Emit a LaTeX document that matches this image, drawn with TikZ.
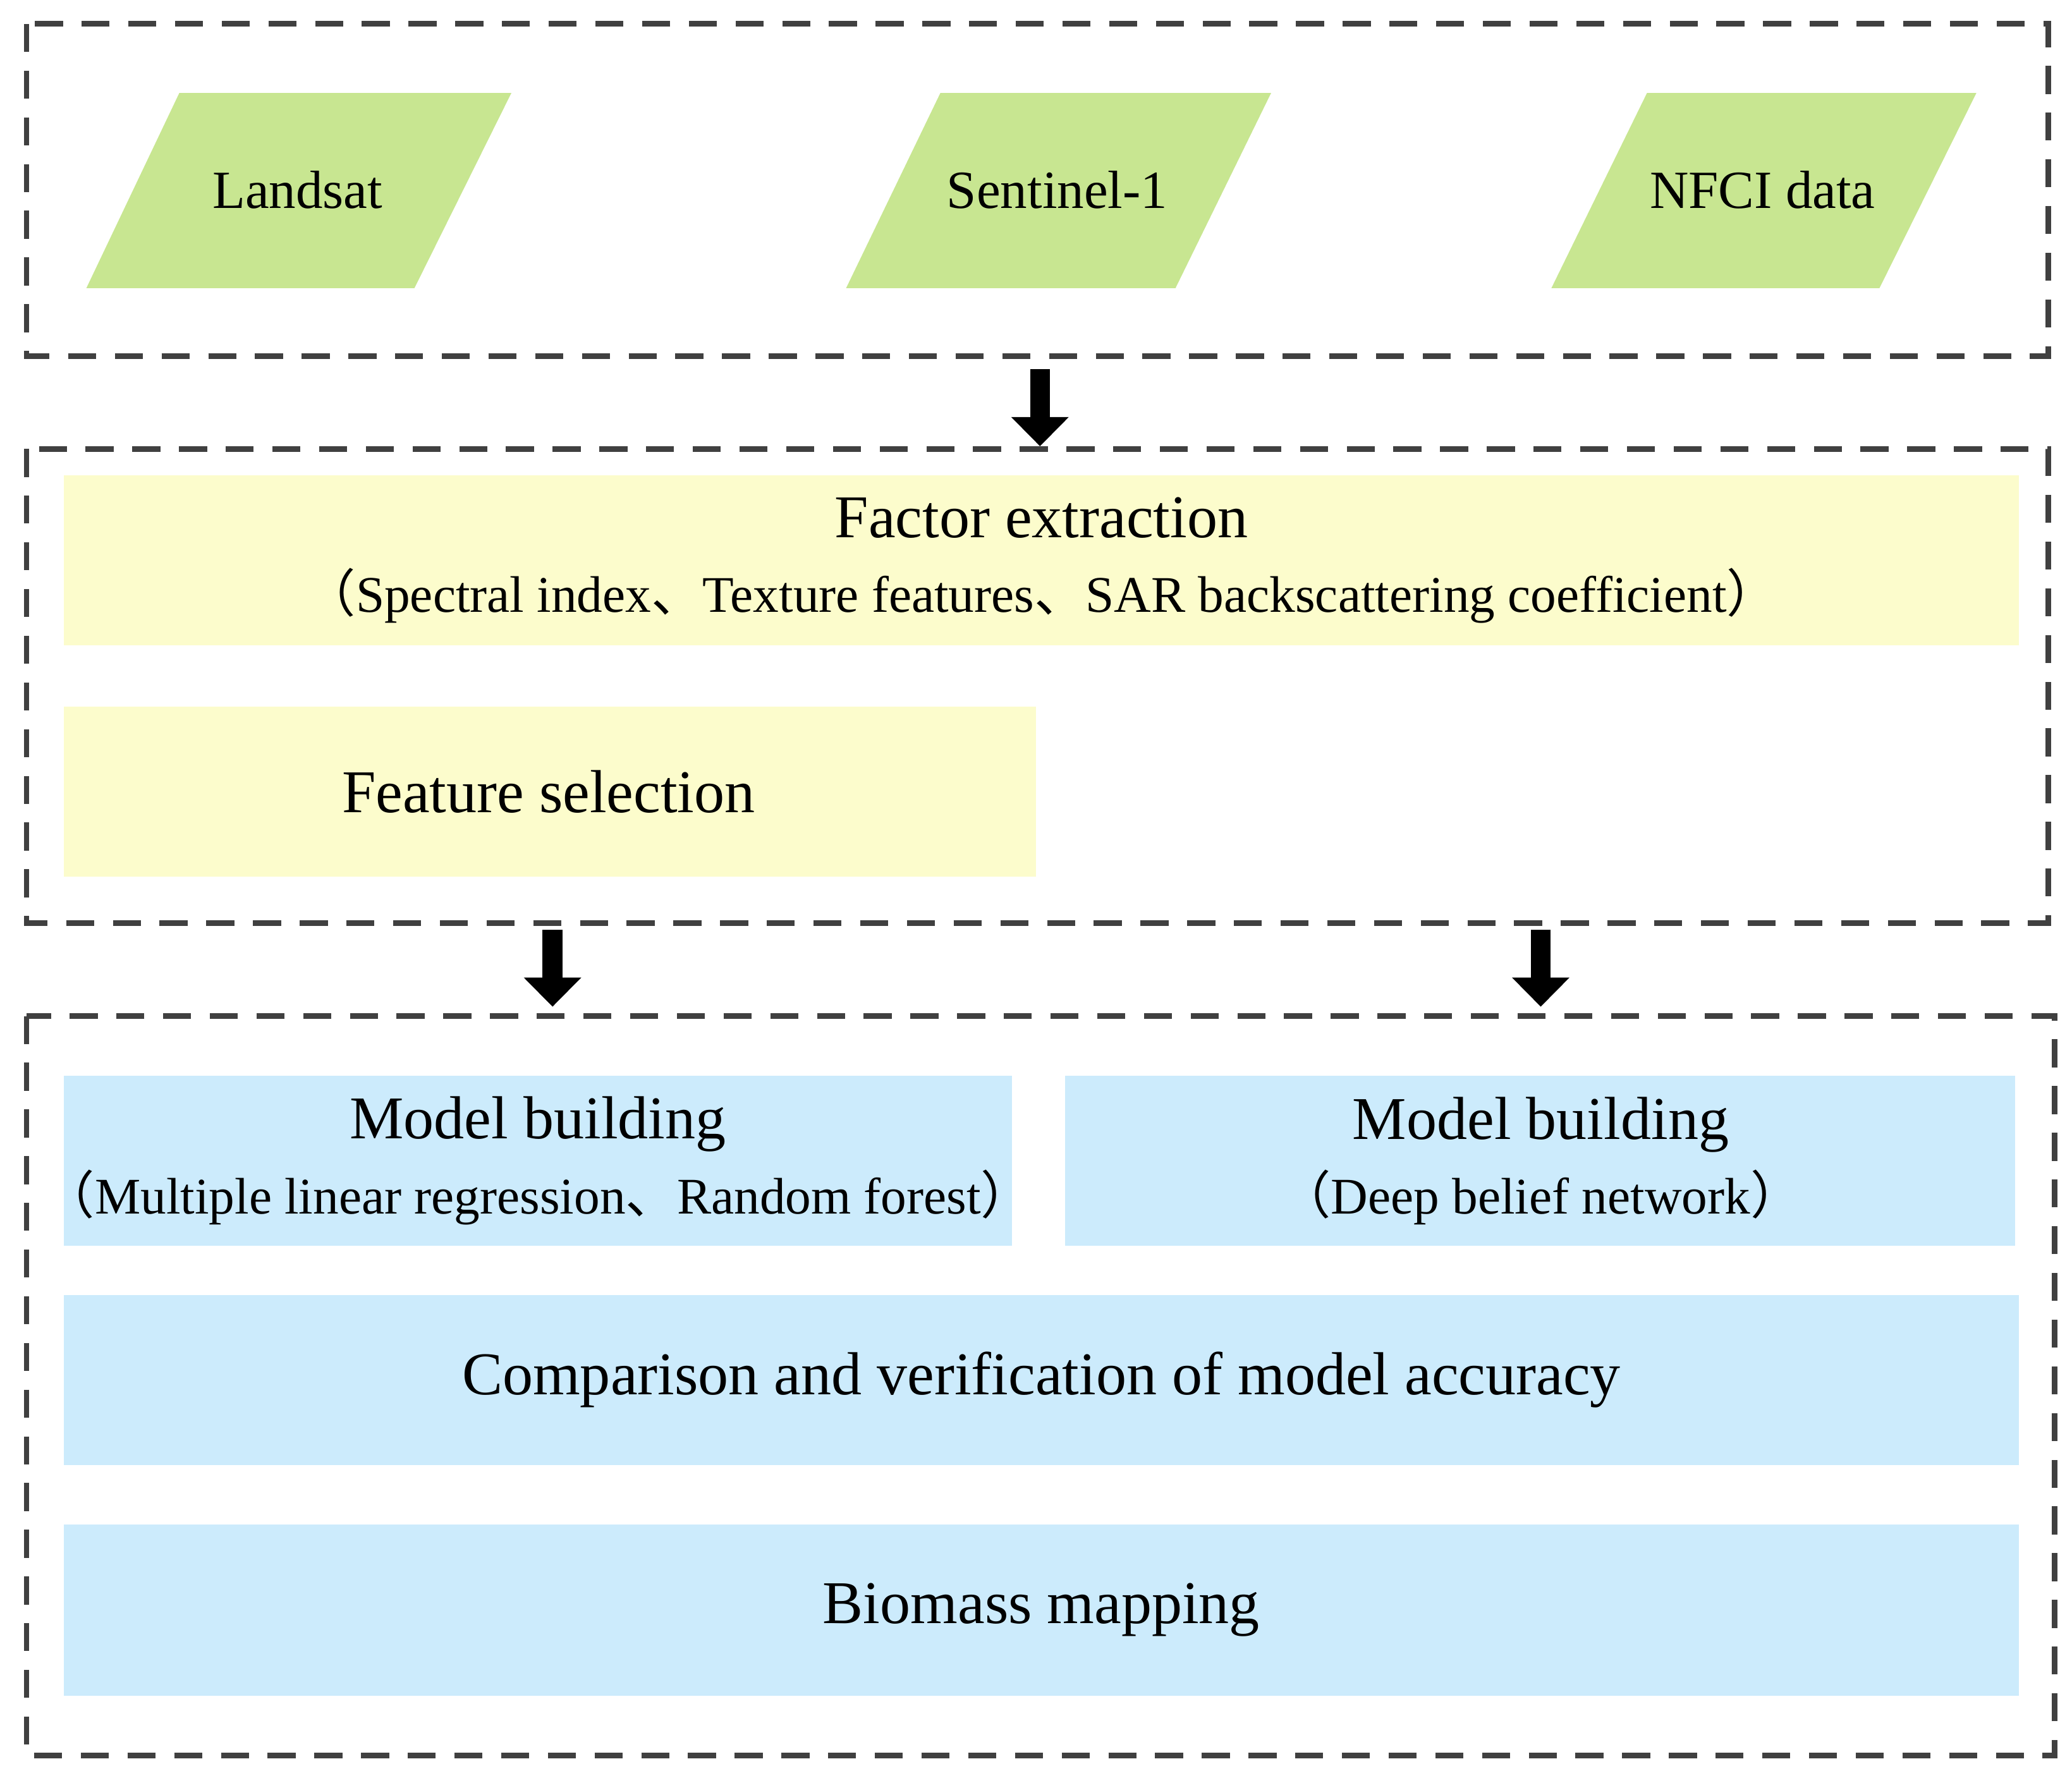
\documentclass[tikz,border=0pt]{standalone}
\usepackage{fontspec}
\setmainfont{Liberation Serif}
\newfontfamily\cjk{Noto Sans CJK SC}
\usetikzlibrary{arrows.meta}
\definecolor{gr}{RGB}{200,230,145}
\definecolor{ye}{RGB}{252,252,204}
\definecolor{bl}{RGB}{204,235,252}
\newcommand{\lp}{{\cjk （}}
\newcommand{\rp}{{\cjk ）}}
\newcommand{\dn}{{\cjk 、}}
\newcommand{\subf}{\fontsize{11}{14}\selectfont}
\begin{document}
\begin{tikzpicture}[x=0.01cm,y=-0.01cm,
  frame/.style={draw=black!75,line width=1.2pt,dash pattern=on 6pt off 4pt},
  box/.style={draw=none,inner sep=0pt,align=center,font=\fontsize{13}{17}\selectfont},
  big/.style={-{Triangle[width=0.42cm,length=0.22cm]},line width=0.15cm,black},
  par/.style={fill=gr,draw=none}]
\useasboundingbox (0,0) rectangle (1560,1333);
% frames
\draw[frame] (20,18) rectangle (1542,268);
\draw[frame] (20,338) rectangle (1542,695);
\draw[frame] (20,765) rectangle (1547,1322);
% parallelograms
\fill[par] (135,70) -- (385,70) -- (312,217) -- (65,217) -- cycle;
\fill[par] (708,70) -- (957,70) -- (885,217) -- (637,217) -- cycle;
\fill[par] (1240,70) -- (1488,70) -- (1415,217) -- (1168,217) -- cycle;
\node[box,font=\fontsize{11.5}{14}\selectfont] (landsat) at (224,143) {Landsat};
\node[box,font=\fontsize{11.5}{14}\selectfont] (sentinel) at (796,143) {Sentinel-1};
\node[box,font=\fontsize{11.5}{14}\selectfont] (nfci) at (1327,143) {NFCI data};
% boxes
\fill[ye] (48,358) rectangle (1520,486);
\node[box] (factor) at (784,422) {Factor extraction\\[-1pt]{\subf\lp Spectral index\dn Texture features\dn SAR backscattering coefficient\rp}};
\fill[ye] (48,532) rectangle (780,660);
\node[box] (feat) at (413,596) {Feature selection};
\fill[bl] (48,810) rectangle (762,938);
\node[box] (mb1) at (405,874) {Model building\\[-1pt]{\subf\lp Multiple linear regression\dn Random forest\rp}};
\fill[bl] (802,810) rectangle (1517,938);
\node[box] (mb2) at (1160,874) {Model building\\[-1pt]{\subf\lp Deep belief network\rp}};
\fill[bl] (48,975) rectangle (1520,1103);
\node[box] (comp) at (784,1039) {Comparison and verification of model accuracy};
\fill[bl] (48,1148) rectangle (1520,1277);
\node[box] (bio) at (784,1212) {Biomass mapping};
% arrows
\coordinate (a1s) at (783,278); \coordinate (a1e) at (783,336);
\coordinate (a2s) at (416,700); \coordinate (a2e) at (416,758);
\coordinate (a3s) at (1160,700); \coordinate (a3e) at (1160,758);
\draw[big] (a1s) -- (a1e);
\draw[big] (a2s) -- (a2e);
\draw[big] (a3s) -- (a3e);
\end{tikzpicture}
\end{document}
